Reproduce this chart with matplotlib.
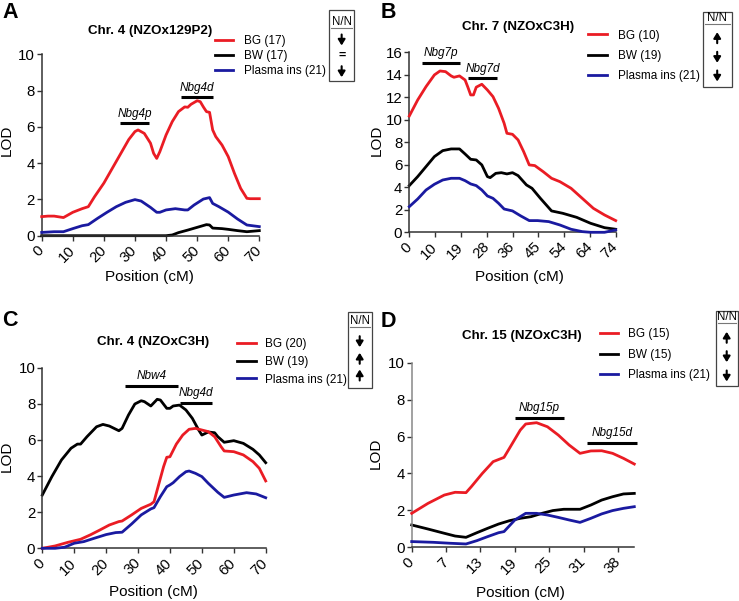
import numpy as np
import matplotlib
matplotlib.use('Agg')
import matplotlib.pyplot as plt
from matplotlib.lines import Line2D
from matplotlib.patches import Rectangle, FancyArrowPatch

plt.rcParams['font.family'] = ['Liberation Sans', 'DejaVu Sans']

W, H = 739, 601
RED = '#ea1c24'
BLACK = '#000000'
BLUE = '#1a1aa0'

# ---------------- Panel A: Chr. 4 (NZOx129P2) ----------------
a_bg_x = [0, 2, 4, 7, 10, 13, 15, 17, 20, 23, 26, 28, 30, 31, 33, 35, 36, 37, 38, 40, 42, 44, 46, 47, 48,
          50, 51, 52, 53, 54, 55, 56, 58, 60, 62, 64, 66, 67, 70]
a_bg_y = [1.05, 1.08, 1.08, 1.0, 1.29, 1.49, 1.6, 2.15, 2.9, 3.8, 4.7, 5.3, 5.74, 5.83, 5.64, 5.1, 4.54, 4.26,
          4.63, 5.55, 6.29, 6.84, 7.1, 7.08, 7.24, 7.44, 7.39, 7.1, 6.84, 6.8, 5.83, 5.46, 5.0, 4.36, 3.44,
          2.61, 2.06, 2.04, 2.04]
a_bw_x = [0, 10, 20, 30, 40, 42, 44, 47, 50, 53, 54, 55, 58, 60, 63, 66, 70]
a_bw_y = [0, 0, 0, 0, 0, 0.04, 0.17, 0.31, 0.46, 0.61, 0.59, 0.42, 0.39, 0.35, 0.28, 0.22, 0.28]
a_ins_x = [0, 4, 7, 10, 13, 15, 18, 21, 24, 27, 30, 32, 35, 37, 38, 40, 43, 46, 47, 49, 52, 54, 55, 57, 60,
           63, 66, 70]
a_ins_y = [0.18, 0.22, 0.22, 0.39, 0.55, 0.61, 0.96, 1.29, 1.6, 1.84, 1.99, 1.91, 1.56, 1.29, 1.29, 1.42, 1.49,
           1.42, 1.42, 1.69, 2.02, 2.1, 1.78, 1.6, 1.3, 0.92, 0.59, 0.5]
a_labels = ['BG (17)', 'BW (17)', 'Plasma ins (21)']
a_nn = ['down', '=', 'down']
a_xticklabels = ['0', '10', '20', '30', '40', '50', '60', '70']
a_qtl_names = ['Nbg4p', 'Nbg4d']
a_qtl_start = [25.2, 44.8]
a_qtl_end = [34.5, 55.2]
a_qtl_lod = [6.2, 7.63]

# ---------------- Panel B: Chr. 7 (NZOxC3H) ----------------
b_bg_x = [0, 3, 6, 9, 11, 13, 15, 16, 18, 20, 21, 22, 23, 24, 26, 28, 30, 32, 34, 35, 37, 39, 41, 43, 45,
          48, 51, 54, 58, 62, 66, 70, 74]
b_bg_y = [10.34, 11.76, 12.95, 13.99, 14.34, 14.28, 13.9, 13.78, 13.9, 13.54, 12.9, 12.21, 12.21, 12.9, 13.16,
          12.65, 12.06, 11.02, 9.69, 8.8, 8.71, 8.21, 7.17, 5.99, 5.93, 5.39, 4.8, 4.5, 3.91, 3.02, 2.13,
          1.54, 1.04]
b_bw_x = [0, 3, 6, 9, 12, 15, 18, 20, 22, 24, 26, 28, 29, 31, 33, 35, 37, 39, 42, 44, 47, 51, 55, 60, 65,
          70, 74]
b_bw_y = [4.15, 4.95, 5.84, 6.73, 7.26, 7.41, 7.41, 6.96, 6.49, 6.43, 5.99, 4.95, 4.86, 5.24, 5.3, 5.19, 5.3,
          5.04, 4.21, 3.91, 3.02, 1.9, 1.69, 1.33, 0.8, 0.41, 0.27]
b_ins_x = [0, 3, 6, 9, 12, 15, 18, 20, 22, 24, 26, 28, 30, 32, 34, 37, 40, 43, 46, 50, 54, 58, 62, 65, 70, 74]
b_ins_y = [2.28, 2.96, 3.76, 4.27, 4.65, 4.8, 4.8, 4.59, 4.3, 4.15, 3.76, 3.23, 3.02, 2.58, 2.07, 1.9, 1.45,
           1.04, 1.04, 0.95, 0.65, 0.27, 0.06, 0.0, 0.0, 0.21]
b_labels = ['BG (10)', 'BW (19)', 'Plasma ins (21)']
b_nn = ['up', 'down', 'down']
b_xticklabels = ['0', '10', '19', '28', '36', '45', '54', '64', '74']
b_qtl_names = ['Nbg7p', 'Nbg7d']
b_qtl_start = [4.55, 21.2]
b_qtl_end = [18.2, 31.6]
b_qtl_lod = [15.08, 13.69]

# ---------------- Panel C: Chr. 4 (NZOxC3H) ----------------
c_bg_x = [0, 4, 8, 12, 15, 18, 21, 24, 25, 28, 31, 34, 35, 36, 38, 39, 40, 42, 44, 46, 48, 50, 52, 54, 56,
          57, 60, 63, 66, 68, 70]
c_bg_y = [0.0, 0.13, 0.33, 0.5, 0.74, 1.01, 1.29, 1.48, 1.51, 1.85, 2.21, 2.44, 2.58, 3.23, 4.52, 5.04, 5.07,
          5.77, 6.27, 6.59, 6.64, 6.55, 6.46, 6.18, 5.63, 5.39, 5.35, 5.17, 4.8, 4.43, 3.73]
c_bw_x = [0, 3, 6, 9, 11, 12, 14, 17, 19, 21, 24, 25, 27, 29, 31, 32, 34, 36, 37, 39, 40, 41, 43, 45, 47,
          49, 50, 52, 54, 55, 57, 60, 63, 66, 68, 70]
c_bw_y = [2.95, 3.97, 4.89, 5.54, 5.77, 5.77, 6.18, 6.73, 6.86, 6.77, 6.51, 6.64, 7.38, 7.99, 8.17, 8.12, 7.88,
          8.25, 8.21, 7.75, 7.75, 7.88, 7.93, 7.66, 7.2, 6.55, 6.27, 6.44, 6.4, 6.18, 5.87, 5.96, 5.81, 5.48,
          5.17, 4.74]
c_ins_x = [0, 4, 7, 10, 13, 16, 20, 23, 25, 28, 31, 34, 35, 37, 39, 40, 41, 43, 45, 46, 48, 50, 52, 55, 57,
           60, 64, 67, 70]
c_ins_y = [0.0, 0.0, 0.06, 0.28, 0.37, 0.54, 0.76, 0.87, 0.89, 1.35, 1.85, 2.18, 2.25, 2.86, 3.41, 3.51, 3.63,
           3.97, 4.24, 4.28, 4.15, 3.97, 3.6, 3.1, 2.82, 2.95, 3.08, 3.01, 2.8]
c_labels = ['BG (20)', 'BW (19)', 'Plasma ins (21)']
c_nn = ['down', 'up', 'up']
c_xticklabels = ['0', '10', '20', '30', '40', '50', '60', '70']
c_qtl_names = ['Nbw4', 'Nbg4d']
c_qtl_start = [25.9, 43.2]
c_qtl_end = [42.4, 53.2]
c_qtl_lod = [8.99, 8.06]

# ---------------- Panel D: Chr. 15 (NZOxC3H) ----------------
d_bg_x = [0, 3, 6, 8, 10, 11, 13, 15, 17, 18, 20, 21, 23, 25, 27, 29, 31, 33, 35, 37, 39, 41]
d_bg_y = [1.84, 2.38, 2.83, 2.98, 2.96, 3.29, 4.0, 4.64, 4.87, 5.36, 6.35, 6.68, 6.75, 6.53, 6.08, 5.54, 5.09,
          5.22, 5.23, 5.09, 4.82, 4.51]
d_bw_x = [0, 3, 6, 8, 10, 12, 14, 16, 18, 20, 22, 24, 26, 28, 31, 33, 35, 37, 39, 41]
d_bw_y = [1.21, 0.99, 0.76, 0.61, 0.54, 0.79, 1.03, 1.26, 1.44, 1.57, 1.66, 1.84, 1.99, 2.06, 2.06, 2.29, 2.56,
          2.74, 2.89, 2.92]
d_ins_x = [0, 4, 7, 10, 12, 14, 16, 17, 19, 21, 23, 25, 27, 29, 31, 33, 35, 37, 39, 41]
d_ins_y = [0.31, 0.27, 0.22, 0.18, 0.36, 0.58, 0.79, 0.85, 1.48, 1.84, 1.84, 1.75, 1.62, 1.48, 1.35, 1.57, 1.81,
           1.99, 2.11, 2.2]
d_labels = ['BG (15)', 'BW (15)', 'Plasma ins (21)']
d_nn = ['up', 'down', 'down']
d_xticklabels = ['0', '7', '13', '19', '25', '31', '38']
d_qtl_names = ['Nbg15p', 'Nbg15d']
d_qtl_start = [18.95, 32.2]
d_qtl_end = [28.1, 41.5]
d_qtl_lod = [7.02, 5.67]

titles = ['Chr. 4 (NZOx129P2)', 'Chr. 7 (NZOxC3H)', 'Chr. 4 (NZOxC3H)', 'Chr. 15 (NZOxC3H)']
panel_letters = ['A', 'B', 'C', 'D']


def fx(x):
    return x / W


def fy(y):
    return 1 - y / H


fig = plt.figure(figsize=(W / 100, H / 100), dpi=100)


def make_axes(left, right, bottom, top):
    return fig.add_axes([fx(left), fy(bottom), (right - left) / W, (bottom - top) / H])


def draw_panel(box, xlim, ymax, xticks, xticklabels, series, labels, qtl, title, title_xy,
               letter, letter_xy, leg, nn, nn_box, nn_ys, ylab_xy, xlab_xy, spine_col='#333333',
               left_spine_col=None):
    ax = make_axes(*box)
    cols = [RED, BLACK, BLUE]
    handles = []
    for (xs, ys), c, lab in zip(series, cols, labels):
        h, = ax.plot(xs, ys, color=c, lw=2.0, label=lab, clip_on=False, solid_joinstyle='round',
                     zorder=3 if c != BLACK else 2)
        handles.append(h)
    ax.set_xlim(*xlim)
    ax.set_ylim(0, ymax)
    ax.set_yticks(np.arange(0, ymax + 0.1, 2))
    ax.set_xticks(xticks)
    ax.set_xticklabels(xticklabels, rotation=45, ha='right', va='center', rotation_mode='anchor')
    ax.tick_params(axis='both', labelsize=10.8, length=3.5, width=1, color=spine_col, pad=1.5)
    ax.tick_params(axis='x', pad=5.5)
    for s in ['top', 'right']:
        ax.spines[s].set_visible(False)
    for s in ['left', 'bottom']:
        ax.spines[s].set_color(spine_col)
        ax.spines[s].set_linewidth(1.1)
    if left_spine_col:
        ax.spines['left'].set_color(left_spine_col)
    ax.set_ylabel('LOD', fontsize=11)
    ax.set_xlabel('Position (cM)', fontsize=11)
    ax.yaxis.set_label_coords(fx(ylab_xy[0]), fy(ylab_xy[1]), transform=fig.transFigure)
    ax.xaxis.set_label_coords(fx(xlab_xy[0]), fy(xlab_xy[1]), transform=fig.transFigure)
    ax.yaxis.label.set_va('center')
    ax.xaxis.label.set_va('center')
    # QTL interval bars
    names, starts, ends, lods = qtl
    for n, s0, s1, l in zip(names, starts, ends, lods):
        ax.plot([s0, s1], [l, l], color='black', lw=2.2, solid_capstyle='butt', clip_on=False)
        ax.annotate(n, xy=((s0 + s1) / 2, l), xytext=(0, 2.5), textcoords='offset points',
                    ha='center', va='bottom', fontsize=8.5, style='italic', annotation_clip=False)
    # title and letter
    fig.text(fx(title_xy[0]), fy(title_xy[1]), title, ha='center', va='center', fontsize=9.6,
             fontweight='bold')
    fig.text(fx(letter_xy[0]), fy(letter_xy[1]), letter, ha='left', va='center', fontsize=15.5,
             fontweight='bold')
    # legend
    lx0, ty, hl, htp, ls = leg
    ax.legend(handles=handles, loc='upper left', bbox_to_anchor=(fx(lx0), fy(ty)),
              bbox_transform=fig.transFigure, frameon=False, fontsize=8.5, handlelength=hl,
              handletextpad=htp, labelspacing=ls, borderpad=0, borderaxespad=0)
    # N/N box
    bx0, by0, bx1, by1, nny = nn_box
    fig.add_artist(Rectangle((fx(bx0), fy(by1)), (bx1 - bx0) / W, (by1 - by0) / H,
                             transform=fig.transFigure, fill=False, ec='#444444', lw=0.9))
    cx = (bx0 + bx1) / 2
    fig.text(fx(cx), fy(nny), 'N/N', ha='center', va='center', fontsize=8.3)
    fig.add_artist(Line2D([fx(bx0 + 2), fx(bx1 - 2)], [fy(nny + 6), fy(nny + 6)],
                          transform=fig.transFigure, color='#777777', lw=0.8))
    for sym, yy in zip(nn, nn_ys):
        if sym == '=':
            fig.text(fx(cx), fy(yy), '=', ha='center', va='center', fontsize=9, fontweight='bold')
            continue
        top, bot = (yy - 5.5, yy + 5.5)
        start, end = (top, bot) if sym == 'down' else (bot, top)
        fig.add_artist(FancyArrowPatch((fx(cx), fy(start)), (fx(cx), fy(end)),
                                       transform=fig.transFigure,
                                       arrowstyle='-|>,head_length=3.4,head_width=2.1',
                                       mutation_scale=1, lw=1.5, color='black',
                                       shrinkA=0, shrinkB=0))
    return ax


draw_panel((41.7, 259.3, 235.7, 54.3), (0, 70), 10, np.arange(0, 71, 10), a_xticklabels,
           [(a_bg_x, a_bg_y), (a_bw_x, a_bw_y), (a_ins_x, a_ins_y)], a_labels,
           (a_qtl_names, a_qtl_start, a_qtl_end, a_qtl_lod), titles[0], (149.7, 30.7),
           panel_letters[0], (2.5, 12), (215, 35, 1.5, 0.95, 0.27), a_nn,
           (329, 10, 354.3, 81, 21.7), (40, 55.7, 71.7), (7, 140), (149, 277.3))

draw_panel((409.3, 615.7, 232.3, 52.3), (0, 74), 16, np.linspace(0, 74, 9), b_xticklabels,
           [(b_bg_x, b_bg_y), (b_bw_x, b_bw_y), (b_ins_x, b_ins_y)], b_labels,
           (b_qtl_names, b_qtl_start, b_qtl_end, b_qtl_lod), titles[1], (517.8, 27.3),
           panel_letters[1], (381, 12), (588.3, 29.5, 1.6, 0.9, 0.71), b_nn,
           (702.7, 12.3, 731.7, 87.3, 18.3), (37.7, 57.3, 76), (377, 140), (519, 277.3))

draw_panel((42.3, 265.7, 548.3, 367.7), (0, 70), 10, np.arange(0, 71, 10), c_xticklabels,
           [(c_bg_x, c_bg_y), (c_bw_x, c_bw_y), (c_ins_x, c_ins_y)], c_labels,
           (c_qtl_names, c_qtl_start, c_qtl_end, c_qtl_lod), titles[2], (152.7, 342.3),
           panel_letters[2], (2.5, 320.5), (236.7, 338, 1.6, 0.81, 0.49), c_nn,
           (347.7, 311.7, 371.7, 388.3, 321), (341.7, 358.3, 375), (7, 456.7), (153.3, 591.7))

draw_panel((411.7, 634.3, 547.3, 362.7), (0, 41), 10, np.linspace(0, 38, 7), d_xticklabels,
           [(d_bg_x, d_bg_y), (d_bw_x, d_bw_y), (d_ins_x, d_ins_y)], d_labels,
           (d_qtl_names, d_qtl_start, d_qtl_end, d_qtl_lod), titles[3], (522, 335.7),
           panel_letters[3], (380.5, 321.5), (600, 328.5, 1.5, 0.9, 0.69), d_nn,
           (715.7, 311, 737.7, 386, 316.7), (337.3, 356.7, 376), (376, 453), (520, 593.3),
           spine_col='#333333', left_spine_col='#888888')

fig.savefig('out.png', dpi=100)
